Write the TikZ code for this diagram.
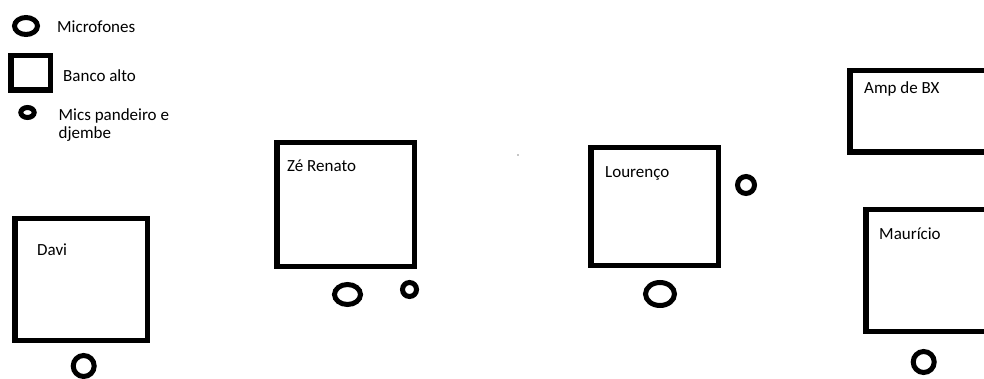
\documentclass[tikz,border=0pt]{standalone}
\usepackage{fontspec}
\setmainfont{Carlito}
\usetikzlibrary{shapes.geometric}
\begin{document}
\begin{tikzpicture}[x=1pt,y=-1pt,
   banco/.style={draw,line width=5.5pt,inner sep=0pt,outer sep=0pt},
   mic/.style={ellipse,draw,line width=5pt,inner sep=0pt,outer sep=0pt},
   txt/.style={anchor=base west,inner sep=0pt,font=\fontsize{17}{18}\selectfont}]
\useasboundingbox (0,0) rectangle (984,379);
\clip (0,0) rectangle (984,379);
% Legenda
\node[mic,minimum width=23pt,minimum height=17pt] (lgMic) at (26,26) {};
\node[txt] (lgMicTxt) at (57,33) {Microfones};
\node[banco,minimum width=39.5pt,minimum height=34.5pt] (lgBanco) at (30.8,72.7) {};
\node[txt] (lgBancoTxt) at (63,81.5) {Banco alto};
\node[mic,minimum width=13.4pt,minimum height=10pt] (lgPand) at (27.5,112.5) {};
\node[txt,anchor=north west,align=left] (lgPandTxt) at (58.5,108.5) {Mics pandeiro e\\djembe};
% Davi
\node[banco,minimum width=132.5pt,minimum height=121.5pt] (davi) at (81,279.5) {};
\node[txt] (daviTxt) at (37,255) {Davi};
\node[mic,minimum width=21pt,minimum height=21pt] (daviMic) at (83.7,366) {};
% Ze Renato
\node[banco,minimum width=137.5pt,minimum height=123.5pt] (ze) at (345.5,204.5) {};
\node[txt] (zeTxt) at (287,172) {Zé Renato};
\node[mic,minimum width=26pt,minimum height=20pt] (zeMic) at (347.5,294.5) {};
\node[mic,minimum width=14pt,minimum height=14pt] (zePand) at (409.5,289.5) {};
% Lourenco
\node[banco,minimum width=127.5pt,minimum height=117.5pt] (lourenco) at (654.5,206.5) {};
\node[txt] (lourencoTxt) at (605,178) {Lourenço};
\node[mic,minimum width=17pt,minimum height=17pt] (lourencoPand) at (746,185) {};
\node[mic,minimum width=29pt,minimum height=23pt] (lourencoMic) at (660,294) {};
% Amp e Mauricio
\node[banco,anchor=north west,minimum width=200pt,minimum height=81.5pt] (amp) at (849.75,70.75) {};
\node[txt] (ampTxt) at (864,94) {Amp de BX};
\node[banco,anchor=north west,minimum width=200pt,minimum height=121.5pt] (mauricio) at (865.75,209.75) {};
\node[txt] (mauricioTxt) at (879,240) {Maurício};
\node[mic,minimum width=21pt,minimum height=21pt] (mauricioMic) at (923.7,362) {};
\fill[black!45] (518,155) circle (0.8);
\end{tikzpicture}
\end{document}
